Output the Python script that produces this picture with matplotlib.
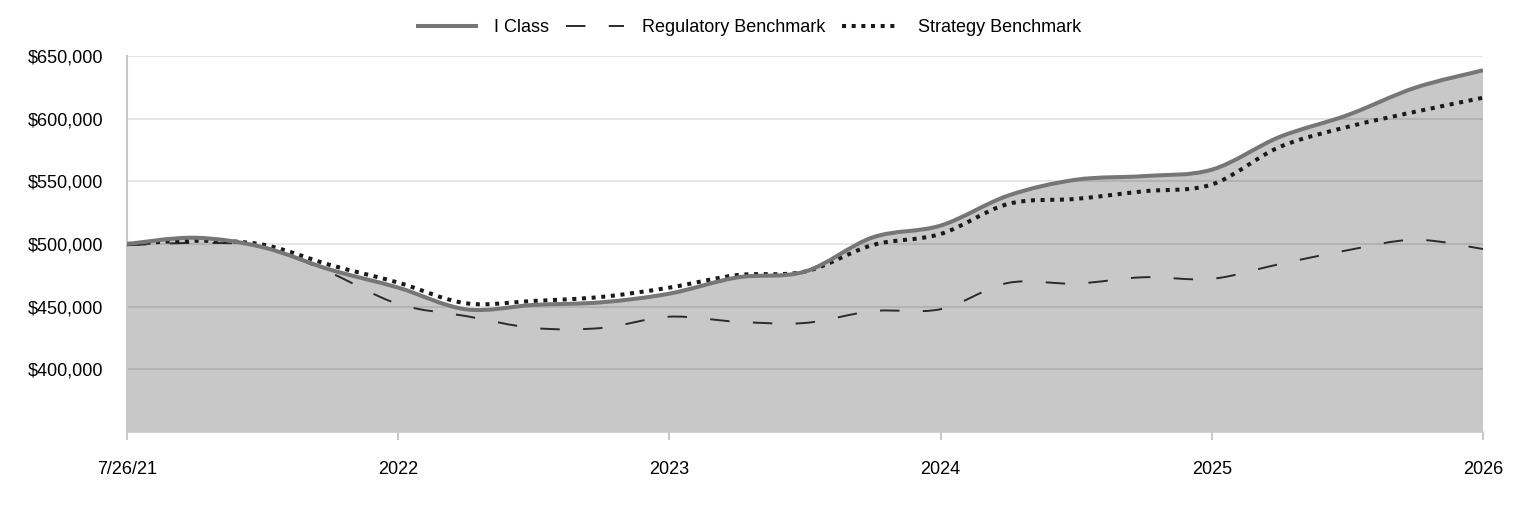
import matplotlib
matplotlib.use('Agg')
import matplotlib.pyplot as plt
from matplotlib.path import Path
from matplotlib.patches import PathPatch
from matplotlib.lines import Line2D
from matplotlib.ticker import FuncFormatter
import numpy as np

plt.rcParams['font.family'] = ['Liberation Sans', 'DejaVu Sans']

# quarterly values, 7/26/21 .. 2026
quarter = np.arange(21)
i_class = [500000, 505000, 497500, 479500, 465200, 447900, 451400, 453500, 460400, 473300,
           478000, 505300, 514700, 538700, 551300, 554200, 559300, 585400, 602800, 624700, 638600]
regulatory = [499000, 500800, 498000, 477000, 452100, 442500, 433000, 433000, 442000, 438000,
              437000, 446500, 448000, 469000, 468400, 473500, 472200, 484000, 495000, 503400, 496000]
strategy = [500000, 502600, 499500, 483200, 469200, 452700, 454600, 457800, 465200, 475200,
            478000, 499200, 508000, 532000, 536000, 542100, 547500, 577400, 593400, 605500, 616700]

tick_pos = [0, 4, 8, 12, 16, 20]
tick_labels = ['7/26/21', '2022', '2023', '2024', '2025', '2026']
y_ticks = [400000, 450000, 500000, 550000, 600000, 650000]
y_min, y_max = 350000, 650000


def smooth(x, y):
    # catmull-rom curve through the points, drawn as bezier segments
    n = len(x)
    verts = [(x[0], y[0])]
    codes = [Path.MOVETO]
    for i in range(n - 1):
        a = max(i - 1, 0)
        d = min(i + 2, n - 1)
        c1 = (x[i] + (x[i + 1] - x[a]) / 6, y[i] + (y[i + 1] - y[a]) / 6)
        c2 = (x[i + 1] - (x[d] - x[i]) / 6, y[i + 1] - (y[d] - y[i]) / 6)
        verts += [c1, c2, (x[i + 1], y[i + 1])]
        codes += [Path.CURVE4] * 3
    return verts, codes


fig = plt.figure(figsize=(15.24, 5.16), dpi=100)
ax = fig.add_axes([127 / 1524, 1 - 432 / 516, (1483 - 127) / 1524, (432 - 56) / 516])

# area under I Class
v, c = smooth(quarter, i_class)
fv = v + [(quarter[-1], y_min), (quarter[0], y_min), (quarter[0], y_min)]
fc = c + [Path.LINETO, Path.LINETO, Path.CLOSEPOLY]
ax.add_patch(PathPatch(Path(fv, fc), facecolor='#c8c8c8', edgecolor='none', zorder=1))

for y in y_ticks:
    ax.axhline(y, color='black', alpha=0.1, lw=1.5, zorder=2)

v, c = smooth(quarter, regulatory)
ax.add_patch(PathPatch(Path(v, c), facecolor='none', edgecolor='#2a2a2a', lw=1.4,
                       linestyle=(0, (10, 12)), zorder=3))
v, c = smooth(quarter, strategy)
ax.add_patch(PathPatch(Path(v, c), facecolor='none', edgecolor='#1a1a1a', lw=2.9,
                       linestyle=(0, (1.0, 1.4)), capstyle='butt', zorder=4))
v, c = smooth(quarter, i_class)
ax.add_patch(PathPatch(Path(v, c), facecolor='none', edgecolor='#767676', lw=2.9, zorder=5))

ax.set_xlim(0, 20)
ax.set_ylim(y_min, y_max)
ax.set_xticks(tick_pos)
ax.set_xticklabels(tick_labels)
ax.set_yticks(y_ticks)
ax.yaxis.set_major_formatter(FuncFormatter(lambda v, p: '${:,.0f}'.format(v)))
ax.tick_params(axis='y', length=0, pad=17, labelsize=13)
ax.tick_params(axis='x', length=6, color='#c0c0c0', width=1.2, pad=15, labelsize=13)

for s in ['top', 'right']:
    ax.spines[s].set_visible(False)
ax.spines['left'].set_color('#c8c8c8')
ax.spines['left'].set_linewidth(1.5)
ax.spines['bottom'].set_color('#c8c8c8')
ax.spines['bottom'].set_linewidth(1.2)

handles = [
    Line2D([], [], color='#767676', lw=2.9),
    Line2D([], [], color='#2a2a2a', lw=1.4, linestyle=(0, (10, 12))),
    Line2D([], [], color='#1a1a1a', lw=2.9, linestyle=(0, (1.0, 1.4))),
]
fig.legend(handles, ['I Class', 'Regulatory Benchmark', 'Strategy Benchmark'],
           loc='center', bbox_to_anchor=(0.492, 1 - 28 / 516), ncol=3, frameon=False,
           fontsize=13, handlelength=3.2, columnspacing=0.95, handletextpad=1.0)

fig.savefig('out.png', dpi=100)
